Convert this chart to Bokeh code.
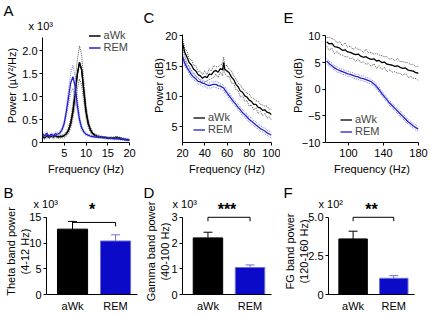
from bokeh.plotting import figure
from bokeh.layouts import row, column
from bokeh.models import (FixedTicker, Legend, LegendItem, Whisker, Title,
                          ColumnDataSource, TeeHead, Range1d, PrintfTickFormatter)
from bokeh.embed import file_html
from bokeh.resources import INLINE

FONT = "Liberation Sans"
BLACK = "#000000"
BLUE = "#0a0ac8"
BLUE_EDGE = "#7070d4"
BLUE_LINE = "#2020c8"
BLUE_ENV = "#7c7ce6"
GREY_ENV = "#555555"

# ---------------- data ----------------
groups = ["aWk", "REM"]

# Panel A: theta-range spectra (x10^3 uV^2/Hz)
freq_a = [0.0, 0.5, 1.0, 1.5, 2.0, 2.5, 3.0, 3.5, 4.0, 4.5, 5.0, 5.5, 6.0, 6.5,
          7.0, 7.5, 8.0, 8.5, 9.0, 9.5, 10.0, 10.5, 11.0, 11.5, 12.0, 12.5, 13.0,
          13.5, 14.0, 14.5, 15.0, 15.5, 16.0, 16.5, 17.0, 17.5, 18.0, 18.5, 19.0,
          19.5, 20.0]
a_awk_mean = [0.13, 0.10, 0.15, 0.11, 0.14, 0.12, 0.15, 0.12, 0.13, 0.13, 0.15,
              0.19, 0.27, 0.42, 0.68, 1.05, 1.48, 1.74, 1.58, 1.12, 0.68, 0.42,
              0.28, 0.20, 0.16, 0.14, 0.13, 0.12, 0.11, 0.11, 0.10, 0.10, 0.10,
              0.10, 0.11, 0.10, 0.09, 0.08, 0.07, 0.06, 0.05]
a_awk_sem = [0.03, 0.03, 0.04, 0.03, 0.03, 0.03, 0.04, 0.03, 0.03, 0.03, 0.04,
             0.05, 0.07, 0.10, 0.16, 0.24, 0.32, 0.36, 0.33, 0.24, 0.15, 0.09,
             0.06, 0.04, 0.03, 0.03, 0.03, 0.02, 0.02, 0.02, 0.02, 0.02, 0.02,
             0.02, 0.03, 0.02, 0.02, 0.02, 0.02, 0.02, 0.02]
a_rem_mean = [0.19, 0.14, 0.20, 0.13, 0.18, 0.15, 0.19, 0.18, 0.21, 0.28, 0.42,
              0.68, 1.00, 1.30, 1.43, 1.22, 0.82, 0.50, 0.32, 0.23, 0.18, 0.16,
              0.14, 0.13, 0.12, 0.12, 0.11, 0.11, 0.10, 0.10, 0.09, 0.09, 0.09,
              0.08, 0.08, 0.08, 0.07, 0.07, 0.06, 0.06, 0.05]
a_rem_sem = [0.03, 0.03, 0.04, 0.03, 0.03, 0.03, 0.04, 0.03, 0.04, 0.04, 0.06,
             0.10, 0.15, 0.22, 0.25, 0.22, 0.15, 0.08, 0.05, 0.03, 0.03, 0.02,
             0.02, 0.02, 0.02, 0.02, 0.02, 0.02, 0.02, 0.02, 0.02, 0.02, 0.02,
             0.02, 0.02, 0.02, 0.02, 0.02, 0.02, 0.02, 0.02]

# Panel C: gamma-range spectra (dB)
freq_c = [20, 22, 24, 26, 28, 30, 32, 34, 36, 38, 40, 42, 44, 46, 48, 50, 52, 54,
          56, 57, 58, 60, 62, 64, 66, 68, 70, 72, 74, 76, 78, 80, 82, 84, 86, 88,
          90, 92, 94, 96, 98, 100]
c_awk_mean = [18.9, 17.3, 16.5, 15.6, 15.2, 14.5, 14.2, 13.6, 13.4, 13.0, 13.3,
              13.1, 13.7, 13.6, 14.1, 14.3, 14.0, 14.6, 14.4, 15.6, 14.5, 14.2,
              13.9, 13.2, 12.8, 12.0, 11.6, 10.9, 10.7, 10.1, 9.9, 9.4, 9.2, 8.7,
              8.7, 8.2, 8.1, 7.7, 7.8, 7.4, 7.3, 7.0]
c_awk_sem = [0.9, 0.6, 1.0, 0.6, 0.9, 0.6, 0.9, 0.5, 0.8, 0.6, 0.9, 0.5, 0.9,
             0.6, 1.0, 0.6, 0.9, 0.6, 1.0, 0.9, 0.6, 0.9, 0.6, 1.0, 0.6, 0.9,
             0.6, 1.0, 0.6, 0.9, 0.6, 1.0, 0.6, 0.9, 0.6, 1.0, 0.6, 0.9, 0.6,
             1.0, 0.6, 0.9]
c_rem_mean = [16.6, 15.5, 14.8, 14.2, 13.6, 13.2, 12.9, 12.5, 12.4, 12.2, 12.1,
              11.9, 11.8, 11.9, 12.0, 12.0, 11.8, 11.7, 11.5, 11.4, 11.1, 10.6,
              10.1, 9.6, 9.1, 8.7, 8.2, 7.8, 7.3, 7.0, 6.6, 6.2, 5.9, 5.6, 5.3,
              5.0, 4.7, 4.5, 4.3, 4.0, 3.8, 3.6]
c_rem_sem = [0.5, 0.5, 0.4, 0.5, 0.4, 0.5, 0.4, 0.5, 0.4, 0.5, 0.4, 0.5, 0.4,
             0.5, 0.4, 0.5, 0.5, 0.4, 0.5, 0.4, 0.5, 0.4, 0.5, 0.4, 0.5, 0.4,
             0.5, 0.4, 0.5, 0.4, 0.5, 0.4, 0.5, 0.4, 0.5, 0.4, 0.5, 0.4, 0.5,
             0.4, 0.5, 0.4]

# Panel E: fast-gamma-range spectra (dB)
freq_e = [75, 78, 81, 84, 87, 90, 93, 96, 99, 102, 105, 108, 111, 114, 117, 120,
          123, 126, 129, 132, 135, 138, 141, 144, 147, 150, 153, 156, 159, 162,
          165, 168, 171, 174, 177, 180]
e_awk_mean = [8.9, 8.5, 8.6, 8.0, 7.9, 7.7, 7.3, 7.4, 7.0, 6.9, 6.7, 6.5, 6.6,
              6.2, 6.0, 6.1, 5.8, 5.6, 5.7, 5.3, 5.4, 5.0, 5.1, 4.7, 4.6, 4.5,
              4.3, 4.4, 4.1, 3.9, 4.0, 3.6, 3.5, 3.4, 3.1, 3.0]
e_awk_sem = [0.8, 1.2, 0.9, 1.3, 0.8, 1.2, 0.9, 1.3, 0.9, 1.2, 0.8, 1.3, 0.9,
             1.2, 0.9, 1.4, 1.0, 1.3, 0.9, 1.4, 1.0, 1.3, 1.0, 1.4, 1.0, 1.3,
             1.0, 1.4, 1.1, 1.3, 1.0, 1.4, 1.1, 1.3, 1.1, 1.4]
e_rem_mean = [5.3, 4.8, 4.4, 4.0, 3.7, 3.5, 3.3, 3.1, 2.9, 2.8, 2.6, 2.4, 2.3,
              2.1, 2.0, 1.8, 1.6, 1.4, 1.0, 0.5, -0.1, -0.8, -1.4, -2.0, -2.6,
              -3.1, -3.6, -4.1, -4.6, -5.1, -5.6, -6.1, -6.5, -6.9, -7.2, -7.5]
e_rem_sem = [0.5, 0.4, 0.5, 0.4, 0.5, 0.4, 0.5, 0.4, 0.5, 0.4, 0.5, 0.4, 0.5,
             0.4, 0.5, 0.4, 0.5, 0.4, 0.5, 0.4, 0.5, 0.4, 0.5, 0.4, 0.5, 0.4,
             0.5, 0.4, 0.5, 0.4, 0.5, 0.4, 0.5, 0.4, 0.5, 0.4]

# Bar panels
theta_band = [12.7, 10.4]       # x10^3
theta_band_err = [1.5, 1.2]
gamma_band = [2.2, 1.05]        # x10^3
gamma_band_err = [0.22, 0.10]
fg_band = [3.6, 1.05]           # x10^2
fg_band_err = [0.5, 0.17]
sig_marks = ["*", "***", "**"]
sig_levels = [14.0, 3.0, 5.0]

a_xticks = [5, 10, 15, 20]
a_yticks = [0, 0.5, 1.0, 1.5, 2.0]
c_xticks = [20, 40, 60, 80, 100]
c_yticks = [5, 10, 15, 20]
e_xticks = [100, 140, 180]
e_yticks = [-10, -5, 0, 5, 10]
b_yticks = [0, 5, 10, 15]
d_yticks = [0, 1, 2, 3]
f_yticks = [0, 2.5, 5.0]


# ---------------- helpers ----------------
def make_fig(page_box, frame, xr, yr):
    pl, pr, pt, pb = page_box
    fl, fr, ft, fb = frame
    p = figure(width=pr - pl, height=pb - pt,
               x_range=Range1d(*xr), y_range=Range1d(*yr),
               output_backend="svg", toolbar_location=None, title=None,
               min_border_left=fl - pl, min_border_right=pr - fr,
               min_border_top=ft - pt, min_border_bottom=pb - fb,
               background_fill_color="white", border_fill_color="white")
    p.outline_line_color = None
    p.grid.visible = False
    for ax in p.axis:
        ax.axis_line_color = "black"
        ax.axis_line_width = 1
        ax.major_tick_line_color = "black"
        ax.major_tick_out = 3
        ax.major_tick_in = 0
        ax.minor_tick_line_color = None
        ax.major_label_text_font = FONT
        ax.major_label_text_font_size = "11px"
        ax.major_label_text_color = "black"
        ax.major_label_standoff = 2
        ax.axis_label_text_font = FONT
        ax.axis_label_text_font_size = "11px"
        ax.axis_label_text_font_style = "normal"
        ax.axis_label_text_color = "black"
        ax.axis_label_standoff = 2
    p.xaxis.major_label_standoff = 3
    p.xaxis.axis_label_standoff = 3
    spec = dict(frame=frame, x=xr, y=yr)
    return p, spec


def add_title(p, text, size, align, offset, valign, standoff, bold=False):
    # titles are stacked outward from the plot frame in the order they are added
    p.add_layout(Title(text=text, align=align, offset=offset,
                       vertical_align=valign, standoff=standoff,
                       text_font=FONT, text_font_size=size,
                       text_font_style="bold" if bold else "normal",
                       text_color="black"), "above")


def pm(m, s, sign):
    return [a + sign * b for a, b in zip(m, s)]


def curves(p, f, m, s, col, env_col):
    p.line(f, pm(m, s, 1), line_color=env_col, line_dash="1 1", line_width=1)
    p.line(f, pm(m, s, -1), line_color=env_col, line_dash="1 1", line_width=1)
    return p.line(f, m, line_color=col, line_width=1.3)


def add_legend(p, r_awk, r_rem, location, margin=0):
    leg = Legend(items=[LegendItem(label=groups[0], renderers=[r_awk]),
                        LegendItem(label=groups[1], renderers=[r_rem])],
                 location=location, border_line_color=None,
                 background_fill_alpha=0, label_text_font=FONT,
                 label_text_font_size="11px", glyph_width=12, glyph_height=9,
                 label_height=9, spacing=0, padding=0, margin=margin,
                 label_standoff=3)
    p.add_layout(leg)


def bar_panel(p, spec, vals, errs, mark, level, ticks, ylabel, standoff):
    xs = [i + 1 for i in range(len(groups))]
    p.vbar(x=xs, top=vals, width=0.7, fill_color=[BLACK, BLUE],
           line_color=[BLACK, BLUE_EDGE], line_width=1)
    for x, v, e, c in zip(xs, vals, errs, [BLACK, BLUE_EDGE]):
        src = ColumnDataSource(dict(base=[x], lower=[v], upper=[v + e]))
        p.add_layout(Whisker(source=src, base="base", lower="lower", upper="upper",
                             line_color=c, line_width=1, lower_head=None,
                             upper_head=TeeHead(size=9, line_color=c, line_width=1)))
    fl, fr, ft, fb = spec["frame"]
    y0, y1 = spec["y"]
    d = 4 * (y1 - y0) / (fb - ft)
    p.line([xs[0], xs[0], xs[1], xs[1]], [level - d, level, level, level - d],
           line_color="black", line_width=1)
    add_title(p, mark, "16px", "center", 0, "bottom", -19, bold=True)
    p.xaxis.ticker = FixedTicker(ticks=xs)
    p.xaxis.major_label_overrides = {x: g for x, g in zip(xs, groups)}
    p.xaxis.major_tick_out = 0
    p.xaxis.major_label_standoff = 5
    p.yaxis.ticker = FixedTicker(ticks=ticks)
    p.yaxis.bounds = (ticks[0], ticks[-1])
    p.yaxis.axis_label = ylabel
    p.yaxis.axis_label_standoff = standoff


# ---------------- panel A ----------------
pA, sA = make_fig((0, 140, 0, 180), (42, 129, 28, 142), (0, 20), (0, 2.48))
curves(pA, freq_a, a_awk_mean, a_awk_sem, BLACK, GREY_ENV)
rA_awk = pA.line(freq_a, a_awk_mean, line_color=BLACK, line_width=1.3)
rA_rem = curves(pA, freq_a, a_rem_mean, a_rem_sem, BLUE_LINE, BLUE_ENV)
pA.xaxis.ticker = FixedTicker(ticks=a_xticks)
pA.yaxis.ticker = FixedTicker(ticks=a_yticks)
pA.yaxis.formatter = PrintfTickFormatter(format="%.1f")
pA.yaxis.major_label_overrides = {0: "0"}
pA.yaxis.bounds = (0, 2.28)
pA.xaxis.axis_label = "Frequency (Hz)"
pA.yaxis.axis_label = "Power (µV²/Hz)"
pA.yaxis.axis_label_standoff = 1
add_legend(pA, rA_awk, rA_rem, "top_right", margin=1)
add_title(pA, "x 10³", "11px", "left", -14, "middle", -8)
add_title(pA, "A", "15px", "left", -39, "top", 3)

# ---------------- panel C ----------------
pC, sC = make_fig((140, 280, 0, 180), (182, 271, 20, 143), (20, 100), (2.4, 21.22))
rC_awk = curves(pC, freq_c, c_awk_mean, c_awk_sem, BLACK, GREY_ENV)
rC_rem = curves(pC, freq_c, c_rem_mean, c_rem_sem, BLUE_LINE, BLUE_ENV)
pC.xaxis.ticker = FixedTicker(ticks=c_xticks)
pC.yaxis.ticker = FixedTicker(ticks=c_yticks)
pC.yaxis.bounds = (2.4, 20.15)
pC.xaxis.axis_label = "Frequency (Hz)"
pC.yaxis.axis_label = "Power (dB)"
pC.yaxis.axis_label_standoff = -3
add_legend(pC, rC_awk, rC_rem, (11, 7))
add_title(pC, "C", "15px", "left", -39, "top", 1)

# ---------------- panel E ----------------
pE, sE = make_fig((280, 429, 0, 180), (325, 418, 20, 142), (73.7, 180), (-10, 11.4))
rE_awk = curves(pE, freq_e, e_awk_mean, e_awk_sem, BLACK, GREY_ENV)
rE_rem = curves(pE, freq_e, e_rem_mean, e_rem_sem, BLUE_LINE, BLUE_ENV)
pE.xaxis.ticker = FixedTicker(ticks=e_xticks)
pE.yaxis.ticker = FixedTicker(ticks=e_yticks)
pE.yaxis.bounds = (-10, 10)
pE.xaxis.axis_label = "Frequency (Hz)"
pE.yaxis.axis_label = "Power (dB)"
pE.yaxis.axis_label_standoff = -5
add_legend(pE, rE_awk, rE_rem, (15, 5))
add_title(pE, "E", "15px", "left", -42, "top", 1)

# ---------------- panel B ----------------
pB, sB = make_fig((0, 140, 180, 314), (46, 137, 208, 296), (0.395, 2.51), (0, 16.71))
bar_panel(pB, sB, theta_band, theta_band_err, sig_marks[0], sig_levels[0],
          b_yticks, "Theta band power\n(4-12 Hz)", -5)
add_title(pB, "x 10³", "11px", "left", -13, "top", -7)
add_title(pB, "B", "15px", "left", -43, "bottom", 1)

# ---------------- panel D ----------------
pD, sD = make_fig((140, 280, 180, 314), (182, 271, 208, 296), (0.395, 2.51), (0, 3.342))
bar_panel(pD, sD, gamma_band, gamma_band_err, sig_marks[1], sig_levels[1],
          d_yticks, "Gamma band power\n(40-100 Hz)", -3)
add_title(pD, "x 10³", "11px", "left", -10, "top", -7)
add_title(pD, "D", "15px", "left", -39, "bottom", 1)

# ---------------- panel F ----------------
pF, sF = make_fig((280, 429, 180, 314), (328, 414, 208, 296), (0.395, 2.51), (0, 5.57))
bar_panel(pF, sF, fg_band, fg_band_err, sig_marks[2], sig_levels[2],
          f_yticks, "FG band power\n(120-160 Hz)", -5)
pF.yaxis.formatter = PrintfTickFormatter(format="%.1f")
pF.yaxis.major_label_overrides = {0: "0"}
add_title(pF, "x 10²", "11px", "left", -10, "top", -7)
add_title(pF, "F", "15px", "left", -45, "bottom", 1)

layout = column(row(pA, pC, pE), row(pB, pD, pF))
open("out.html", "w").write(file_html(layout, INLINE))
